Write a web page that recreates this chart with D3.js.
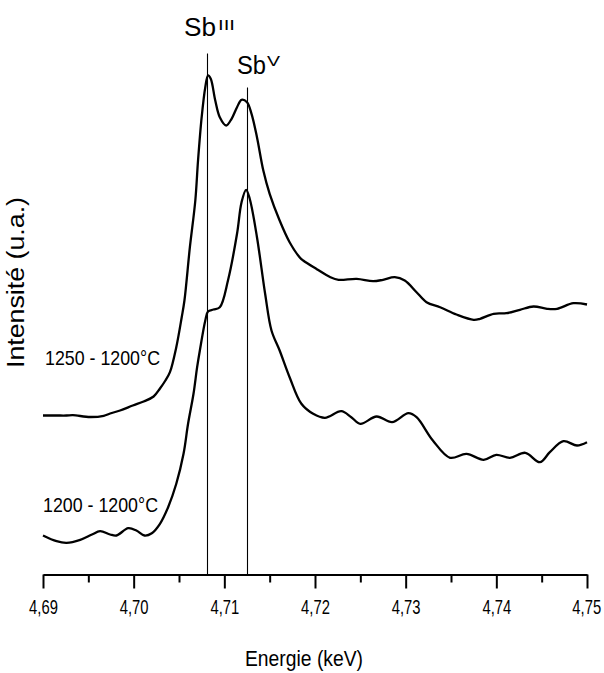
<!DOCTYPE html>
<html>
<head>
<meta charset="utf-8">
<script src="https://cdn.jsdelivr.net/npm/d3@7/dist/d3.min.js"></script>
<style>
  html, body { margin: 0; padding: 0; background: #fff; }
  svg { display: block; }
  text { font-family: "Liberation Sans", Arial, sans-serif; fill: #000; }
</style>
</head>
<body>
<script>
// ---- Data (energy in keV, intensity in arbitrary units) ----
const energy1250 = [4.6900,4.6915,4.6926,4.6933,4.6952,4.6967,4.6974,4.6985,4.6999,4.7011,4.7022,4.7029,4.7035,4.7040,4.7047,4.7053,4.7056,4.7062,4.7068,4.7071,4.7075,4.7079,4.7082,4.7085,4.7090,4.7095,4.7102,4.7108,4.7114,4.7119,4.7125,4.7130,4.7136,4.7143,4.7150,4.7161,4.7172,4.7183,4.7187,4.7202,4.7217,4.7226,4.7246,4.7264,4.7275,4.7288,4.7299,4.7312,4.7323,4.7338,4.7356,4.7375,4.7382,4.7397,4.7411,4.7426,4.7441,4.7456,4.7467,4.7485,4.7500];
const int1250 = [159,159,159,159.3,157.5,158.7,161,164,169,173,178,186,194,202.3,227.3,257.3,274,327.3,374,414,457.3,487.3,499,495.7,474,457.3,449,455.7,467.3,474.7,472.3,460.7,437.3,404,380.7,354,332.3,317.3,314,305.3,297.3,294.7,295.7,293.3,294.7,297.3,294,282.3,272.3,267.3,260,254.7,255.7,260.7,261.3,264.7,268,265.7,265.7,271.3,270];

const energy1200 = [4.6900,4.6915,4.6926,4.6941,4.6954,4.6963,4.6974,4.6981,4.6994,4.7003,4.7012,4.7020,4.7029,4.7038,4.7047,4.7055,4.7060,4.7066,4.7070,4.7073,4.7079,4.7082,4.7088,4.7095,4.7104,4.7114,4.7119,4.7124,4.7128,4.7136,4.7145,4.7152,4.7161,4.7172,4.7185,4.7198,4.7211,4.7229,4.7240,4.7250,4.7268,4.7285,4.7303,4.7312,4.7330,4.7349,4.7367,4.7386,4.7400,4.7415,4.7432,4.7448,4.7459,4.7474,4.7489,4.7500];
const int1200 = [39,33.3,31.7,34.7,40,43.3,40,39,46.3,44,39,41.3,50.7,67.3,90.7,120.7,150.7,180.7,207.3,224,254,263,265,267.3,294,340.7,372.3,384.7,375.7,337.3,280.7,244,224,197.3,170.7,160.7,156.7,163.3,157.3,150.7,158,152.3,161.3,157.3,134,116.7,120.7,114.7,119.7,116.7,121.7,112.3,122.3,133.3,129,132.3];

const seriesLabels = ["1250 - 1200°C", "1200 - 1200°C"];

// reference lines: oxidation states
const refNames = ["Sb", "Sb"];
const refSups = ["III", "V"];
const refEnergy = [4.7081, 4.7125];
const refTop = [521, 487];

const majorTicks = [4.69, 4.70, 4.71, 4.72, 4.73, 4.74, 4.75];
const tickLabels = ["4,69", "4,70", "4,71", "4,72", "4,73", "4,74", "4,75"];
const minorTicks = [4.695, 4.705, 4.715, 4.725, 4.735, 4.745];

const xTitle = "Energie (keV)";
const yTitle = "Intensité (u.a.)";

// ---- Chart ----
const W = 604, H = 673;
const svg = d3.select("body").append("svg").attr("width", W).attr("height", H);

const x = d3.scaleLinear().domain([4.69, 4.75]).range([43, 587]);
const y = d3.scaleLinear().domain([0, 540]).range([574.5, 34.5]);

const line = d3.line()
  .x(d => x(d[0])).y(d => y(d[1]))
  .curve(d3.curveCatmullRom.alpha(0.5));

const s1250 = energy1250.map((e, i) => [e, int1250[i]]);
const s1200 = energy1200.map((e, i) => [e, int1200[i]]);

// reference vertical lines
svg.selectAll("line.ref").data(refEnergy).enter().append("line")
  .attr("class", "ref")
  .attr("x1", d => Math.round(x(d)) + 0.5).attr("x2", d => Math.round(x(d)) + 0.5)
  .attr("y1", y(0)).attr("y2", (d, i) => y(refTop[i]))
  .attr("stroke", "#000").attr("stroke-width", 1.1);

// curves
[s1250, s1200].forEach(s => {
  svg.append("path").datum(s)
    .attr("d", line)
    .attr("fill", "none")
    .attr("stroke", "#000")
    .attr("stroke-width", 2.3)
    .attr("stroke-linejoin", "round");
});

// x axis
const axisY = 574.5;
const gMinor = svg.append("g").attr("transform", `translate(0,${axisY})`)
  .call(d3.axisBottom(x).tickValues(minorTicks).tickSize(8).tickFormat(""));
const gMajor = svg.append("g").attr("transform", `translate(0,${axisY})`)
  .call(d3.axisBottom(x).tickValues(majorTicks).tickSize(14).tickSizeOuter(0)
    .tickFormat((d, i) => tickLabels[i]));
[gMinor, gMajor].forEach(g => {
  g.select(".domain").attr("stroke", "#000").attr("stroke-width", 2.2);
  g.selectAll(".tick line").attr("stroke", "#000").attr("stroke-width", 2);
});
gMinor.select(".domain").remove();
gMajor.selectAll(".tick text")
  .attr("y", 39.5).attr("dy", 0)
  .style("font-size", "20px")
  .attr("transform", "scale(0.74,1)");
gMajor.selectAll(".tick text").filter((d, i) => i === majorTicks.length - 1)
  .attr("x", -1);

// axis titles
svg.append("text")
  .attr("x", 245).attr("y", 666)
  .style("font-size", "22px")
  .attr("textLength", 118).attr("lengthAdjust", "spacingAndGlyphs")
  .text(xTitle);

svg.append("text")
  .attr("transform", "translate(24,368) rotate(-90)")
  .attr("x", 0).attr("y", 0)
  .style("font-size", "23px")
  .attr("textLength", 171).attr("lengthAdjust", "spacingAndGlyphs")
  .text(yTitle);

// series labels
const labelPos = [[45, 365], [43, 511.5]];
seriesLabels.forEach((t, i) => {
  svg.append("text")
    .attr("x", labelPos[i][0]).attr("y", labelPos[i][1])
    .style("font-size", "21px")
    .attr("textLength", 115).attr("lengthAdjust", "spacingAndGlyphs")
    .text(t);
});

// Sb labels
const refLab = [
  { x: 184, y: 36, w: 32, sx: 218, sy: 30, sw: 17 },
  { x: 237, y: 74, w: 29, sx: 267, sy: 66, sw: 13 }
];
refNames.forEach((n, i) => {
  const p = refLab[i];
  svg.append("text").attr("x", p.x).attr("y", p.y)
    .style("font-size", "25px")
    .attr("textLength", p.w).attr("lengthAdjust", "spacingAndGlyphs")
    .text(n);
  svg.append("text").attr("x", p.sx).attr("y", p.sy)
    .style("font-size", "14px")
    .attr("textLength", p.sw).attr("lengthAdjust", "spacingAndGlyphs")
    .text(refSups[i]);
});
</script>
</body>
</html>
